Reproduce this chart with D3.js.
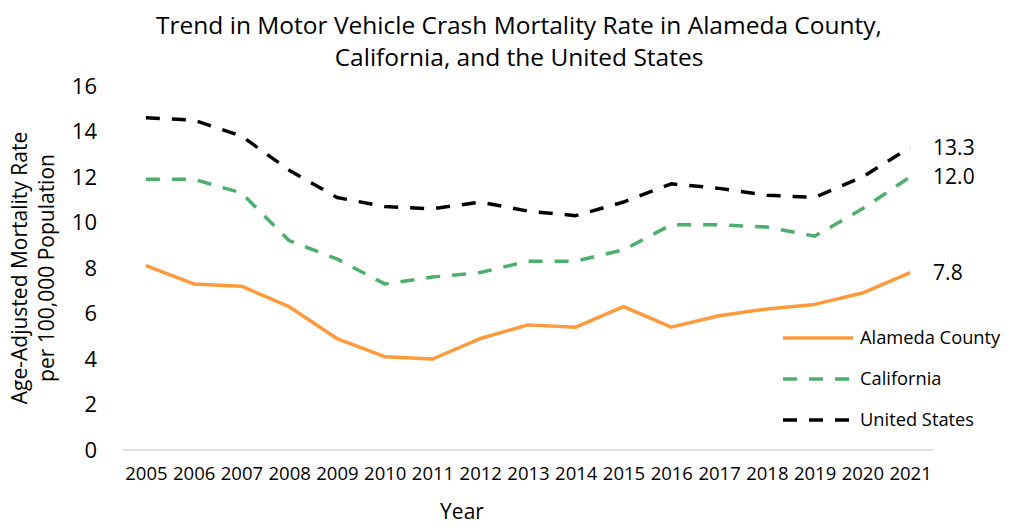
<!DOCTYPE html>
<html>
<head>
<meta charset="utf-8">
<script src="https://cdn.jsdelivr.net/npm/d3@7"></script>
<style>
  body { margin: 0; background: #fff; }
  svg { font-family: "Open Sans", sans-serif; }
</style>
</head>
<body>
<div class="container"></div>
<script>
const years = ['2005', '2006', '2007', '2008', '2009', '2010', '2011', '2012', '2013',
  '2014', '2015', '2016', '2017', '2018', '2019', '2020', '2021']
const alameda = [8.1, 7.3, 7.2, 6.3, 4.9, 4.1, 4.0, 4.9, 5.5, 5.4, 6.3, 5.4, 5.9, 6.2, 6.4, 6.9, 7.8]
const california = [11.9, 11.9, 11.3, 9.2, 8.4, 7.3, 7.6, 7.8, 8.3, 8.3, 8.8, 9.9, 9.9, 9.8, 9.4, 10.6, 12.0]
const unitedStates = [14.6, 14.5, 13.8, 12.3, 11.1, 10.7, 10.6, 10.9, 10.5, 10.3, 10.9, 11.7, 11.5, 11.2, 11.1, 12.0, 13.3]
const yTicks = [0, 2, 4, 6, 8, 10, 12, 14, 16]

const series = [
  { name: 'Alameda County', values: alameda, color: '#FF9A3C', dash: null },
  { name: 'California', values: california, color: '#4DAF6E', dash: '14,12' },
  { name: 'United States', values: unitedStates, color: '#000000', dash: '14,12' }
]

const width = 1014
const height = 527
const plotLeft = 122, plotRight = 934, plotTop = 86, plotBottom = 450

const svg = d3.select('.container').append('svg')
  .attr('width', width).attr('height', height)

const xScale = d3.scalePoint().domain(years).range([plotLeft, plotRight]).padding(0.5)
const yScale = d3.scaleLinear().domain([0, 16]).range([plotBottom, plotTop])

// title
svg.append('text')
  .attr('x', 519).attr('text-anchor', 'middle')
  .attr('font-size', 24.5).attr('fill', '#000')
  .selectAll('tspan')
  .data(['Trend in Motor Vehicle Crash Mortality Rate in Alameda County,', 'California, and the United States'])
  .enter().append('tspan')
    .attr('x', 519)
    .attr('y', (d, i) => 34 + i * 32)
    .text(d => d)

// y axis (labels only)
const yAxis = svg.append('g')
  .attr('transform', `translate(${ plotLeft }, 0)`)
  .call(d3.axisLeft(yScale).tickValues(yTicks).tickSize(0).tickPadding(25))
yAxis.select('.domain').remove()
yAxis.selectAll('text').attr('font-size', 22).attr('font-family', '"Open Sans", sans-serif').attr('fill', '#000')

// x axis
const xAxis = svg.append('g')
  .attr('transform', `translate(0, ${ plotBottom })`)
  .call(d3.axisBottom(xScale).tickSize(0).tickPadding(17))
xAxis.select('.domain').attr('stroke', '#d9d9d9').attr('stroke-width', 1.5)
  .attr('d', `M${ plotLeft },0H${ plotRight }`)
xAxis.selectAll('text').attr('font-size', 18.5).attr('font-family', '"Open Sans", sans-serif').attr('fill', '#000')

// axis titles
svg.append('text')
  .attr('x', 462).attr('y', 519)
  .attr('text-anchor', 'middle').attr('font-size', 21)
  .text('Year')

const yTitle = svg.append('text')
  .attr('transform', 'translate(0, 268) rotate(-90)')
  .attr('text-anchor', 'middle').attr('font-size', 21)
yTitle.append('tspan').attr('x', 0).attr('y', 27).text('Age-Adjusted Mortality Rate')
yTitle.append('tspan').attr('x', 0).attr('y', 54).text('per 100,000 Population')

// lines
const line = d3.line()
  .x((d, i) => xScale(years[i]))
  .y(d => yScale(d))

const plot = svg.append('g').attr('class', 'plot-layer')
plot.selectAll('path.series')
  .data(series.slice().reverse())
  .enter().append('path')
    .attr('class', 'series')
    .attr('fill', 'none')
    .attr('stroke', d => d.color)
    .attr('stroke-width', 3.5)
    .attr('stroke-dasharray', d => d.dash)
    .attr('stroke-linejoin', 'round')
    .attr('d', d => line(d.values))

// end value labels
const last = years.length - 1
plot.selectAll('text.end-label')
  .data(series)
  .enter().append('text')
    .attr('class', 'end-label')
    .attr('x', xScale(years[last]) + 23)
    .attr('y', d => yScale(d.values[last]))
    .attr('dy', '0.35em')
    .attr('font-size', 21)
    .text(d => d3.format('.1f')(d.values[last]))

// legend
const legend = svg.append('g').attr('transform', 'translate(783, 338)')
const items = legend.selectAll('g').data(series).enter().append('g')
  .attr('transform', (d, i) => `translate(0, ${ i * 41 })`)
items.append('line')
  .attr('x1', 0).attr('x2', 70)
  .attr('stroke', d => d.color)
  .attr('stroke-width', 3.5)
  .attr('stroke-dasharray', d => d.dash)
items.append('text')
  .attr('x', 77).attr('dy', '0.35em')
  .attr('font-size', 18.3)
  .text(d => d.name)
</script>
</body>
</html>
